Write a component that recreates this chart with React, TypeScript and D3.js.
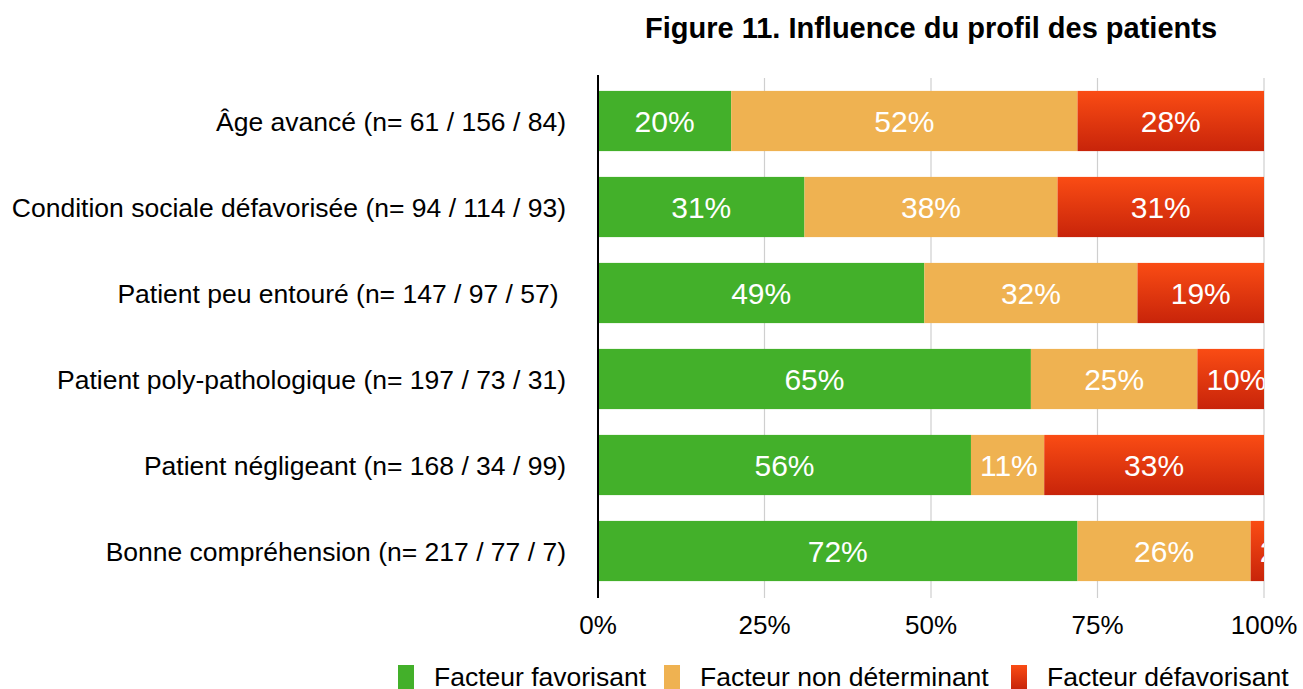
import React from "react";
import * as d3 from "d3";

const title = "Figure 11. Influence du profil des patients";
const categories = [
  "Âge avancé (n= 61 / 156 / 84)",
  "Condition sociale défavorisée (n= 94 / 114 / 93)",
  "Patient peu entouré (n= 147 / 97 / 57) ",
  "Patient poly-pathologique (n= 197 / 73 / 31)",
  "Patient négligeant (n= 168 / 34 / 99)",
  "Bonne compréhension (n= 217 / 77 / 7)",
];
const favorisant = [20, 31, 49, 65, 56, 72];
const nonDeterminant = [52, 38, 32, 25, 11, 26];
const defavorisant = [28, 31, 19, 10, 33, 2];
const seriesNames = ["Facteur favorisant", "Facteur non déterminant", "Facteur défavorisant"];
const ticks = [0, 25, 50, 75, 100];

const W = 1303, H = 689;
const left = 598, right = 1264, top = 78, bottom = 594;
const labelSize = 30;

export default function App() {
  const x = d3.scaleLinear().domain([0, 100]).range([left, right]);
  const y = d3.scaleBand<string>().domain(categories).range([top, bottom]).paddingInner(0.3).paddingOuter(0.15);
  const series = [favorisant, nonDeterminant, defavorisant];
  const fills = ["#43B02A", "#EFB251", "url(#redGrad)"];
  const font = "'Liberation Sans', Arial, Helvetica, sans-serif";
  const legendX = [398, 664, 1011];
  return (
    <svg width={W} height={H} style={{ position: "absolute", left: 0, top: 0 }} fontFamily={font}>
      <defs>
        <linearGradient id="redGrad" x1="0" y1="0" x2="0" y2="1">
          <stop offset="0" stopColor="#FA4C14" />
          <stop offset="1" stopColor="#C8240A" />
        </linearGradient>
        <clipPath id="plotClip">
          <rect x={left} y={0} width={right - left} height={H} />
        </clipPath>
      </defs>
      <rect width={W} height={H} fill="#fff" />
      <text x={(left + right) / 2} y={38} textAnchor="middle" fontSize={29} fontWeight="bold" fill="#000">{title}</text>
      {ticks.map((t) => (
        <line key={t} x1={x(t)} x2={x(t)} y1={top} y2={598} stroke="#cfcfcf" strokeWidth={1.2} />
      ))}
      <g clipPath="url(#plotClip)">
        {categories.map((c, i) => {
          let acc = 0;
          return (
            <g key={c}>
              {series.map((s, k) => {
                const x0 = acc;
                acc += s[i];
                return (
                  <rect key={k} x={x(x0)} y={y(c)} width={x(acc) - x(x0)} height={y.bandwidth()} fill={fills[k]} />
                );
              })}
            </g>
          );
        })}
        {categories.map((c, i) => {
          let acc = 0;
          return (
            <g key={c + "l"}>
              {series.map((s, k) => {
                const x0 = acc;
                acc += s[i];
                const txt = `${s[i]}%`;
                const tw = labelSize * (0.556 * (txt.length - 1) + 0.889);
                const segW = x(acc) - x(x0);
                const fits = tw + 16 <= segW;
                return (
                  <text key={k} x={fits ? (x(x0) + x(acc)) / 2 : x(x0) + 9} y={(y(c) as number) + y.bandwidth() / 2 + 10.5} textAnchor={fits ? "middle" : "start"} fontSize={labelSize} fill="#fff">{txt}</text>
                );
              })}
            </g>
          );
        })}
      </g>
      <line x1={left} x2={left} y1={75} y2={598} stroke="#000" strokeWidth={2} />
      {categories.map((c) => (
        <text key={c} x={566} y={(y(c) as number) + y.bandwidth() / 2 + 9.5} textAnchor="end" fontSize={26.5} fill="#000" style={{ whiteSpace: "pre" }}>{c}</text>
      ))}
      {ticks.map((t) => (
        <text key={t} x={x(t)} y={634} textAnchor="middle" fontSize={26} fill="#000">{t}%</text>
      ))}
      {seriesNames.map((n, k) => (
        <g key={n}>
          <rect x={legendX[k]} y={665} width={16} height={24} fill={fills[k]} />
          <text x={legendX[k] + 36} y={686} fontSize={26.5} fill="#000">{n}</text>
        </g>
      ))}
    </svg>
  );
}
